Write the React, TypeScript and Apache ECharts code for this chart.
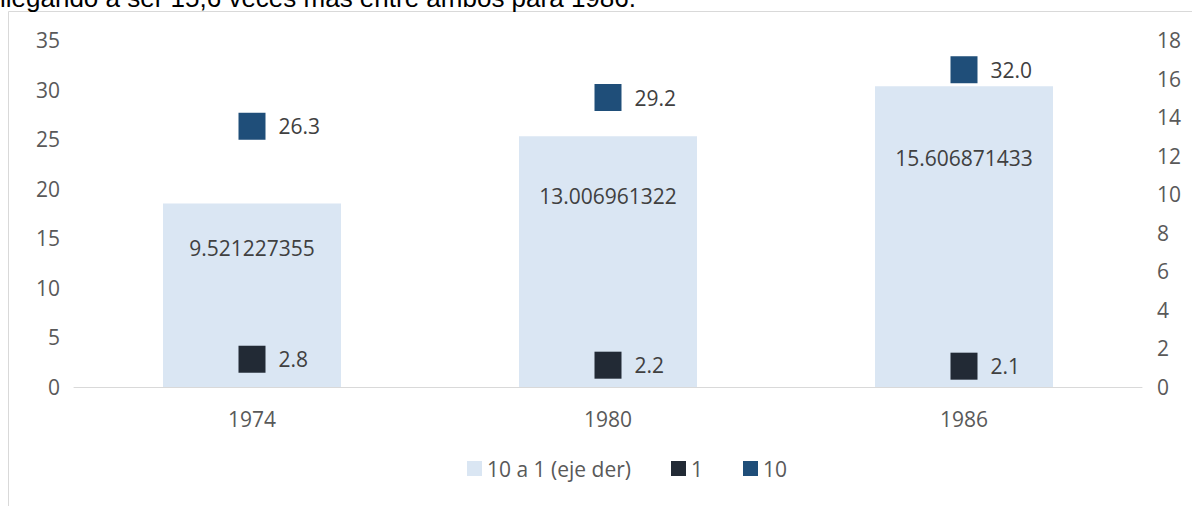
import React, { useEffect, useRef } from "react";
import * as echarts from "echarts";

const categories = ["1974", "1980", "1986"];
const ratioValues = [9.521227355, 13.006961322, 15.606871433];
const ratioLabels = ["9.521227355", "13.006961322", "15.606871433"];
const series1 = [2.8, 2.2, 2.1];
const series10 = [26.3, 29.2, 32.0];
const seriesNames = ["10 a 1 (eje der)", "1", "10"];
const titleText = "llegando a ser 15,6 veces más entre ambos para 1986.";

const FONT = "'Open Sans', sans-serif";
const TXT = "#595959";
const FS = 21;

export default function App() {
  const ref = useRef<HTMLDivElement>(null);
  useEffect(() => {
    if (!ref.current) return;
    const chart = echarts.init(ref.current, undefined, { renderer: "svg" });
    chart.setOption({
      animation: false,
      backgroundColor: "#ffffff",
      textStyle: { fontFamily: FONT },
      graphic: [
        {
          type: "rect",
          silent: true,
          shape: { x: 8.5, y: 11.5, width: 1300, height: 700 },
          style: { fill: "none", stroke: "#d9d9d9", lineWidth: 1 },
        },
        {
          type: "text",
          silent: true,
          x: 0,
          y: -2,
          style: {
            text: titleText,
            fontFamily: "'Liberation Sans', Arial, sans-serif",
            fontSize: 26,
            fill: "#000000",
            verticalAlign: "middle",
          },
        },
      ],
      legend: {
        data: seriesNames,
        left: 462,
        top: 453,
        itemWidth: 15,
        itemHeight: 15,
        itemGap: 40,
        icon: "rect",
        textStyle: { color: TXT, fontSize: FS, fontFamily: FONT },
      },
      grid: { left: 74, right: 50, top: 40, bottom: 119, containLabel: false },
      xAxis: {
        type: "category",
        data: categories,
        axisLine: { show: true, lineStyle: { color: "#d9d9d9", width: 1 } },
        axisTick: { show: false },
        axisLabel: { color: TXT, fontSize: FS, margin: 21, fontFamily: FONT },
      },
      yAxis: [
        {
          type: "value",
          min: 0,
          max: 35,
          interval: 5,
          splitLine: { show: false },
          axisLine: { show: false },
          axisTick: { show: false },
          axisLabel: { color: TXT, fontSize: FS, margin: 14, fontFamily: FONT },
        },
        {
          type: "value",
          min: 0,
          max: 18,
          interval: 2,
          position: "right",
          splitLine: { show: false },
          axisLine: { show: false },
          axisTick: { show: false },
          axisLabel: { color: TXT, fontSize: FS, margin: 15, fontFamily: FONT },
        },
      ],
      series: [
        {
          name: seriesNames[0],
          type: "bar",
          yAxisIndex: 1,
          data: ratioValues,
          barWidth: "50%",
          itemStyle: { color: "#dae6f3" },
          label: {
            show: true,
            position: ["50%", "24%"],
            align: "center",
            verticalAlign: "middle",
            color: "#404040",
            fontSize: FS,
            fontFamily: FONT,
            formatter: (p: any) => ratioLabels[p.dataIndex],
          },
          z: 1,
        },
        {
          name: seriesNames[1],
          type: "scatter",
          yAxisIndex: 0,
          data: series1,
          symbol: "rect",
          symbolSize: 27,
          itemStyle: { color: "#222a35", opacity: 1 },
          label: {
            show: true,
            position: "right",
            distance: 13,
            color: "#404040",
            fontSize: FS,
            fontFamily: FONT,
            formatter: (p: any) => Number(p.value).toFixed(1),
          },
          z: 3,
        },
        {
          name: seriesNames[2],
          type: "scatter",
          yAxisIndex: 0,
          data: series10,
          symbol: "rect",
          symbolSize: 27,
          itemStyle: { color: "#1f4e79", opacity: 1 },
          label: {
            show: true,
            position: "right",
            distance: 13,
            color: "#404040",
            fontSize: FS,
            fontFamily: FONT,
            formatter: (p: any) => Number(p.value).toFixed(1),
          },
          z: 3,
        },
      ],
    });
    return () => chart.dispose();
  }, []);
  return (
    <div
      ref={ref}
      style={{ position: "absolute", left: 0, top: 0, width: 1192, height: 506 }}
    />
  );
}
